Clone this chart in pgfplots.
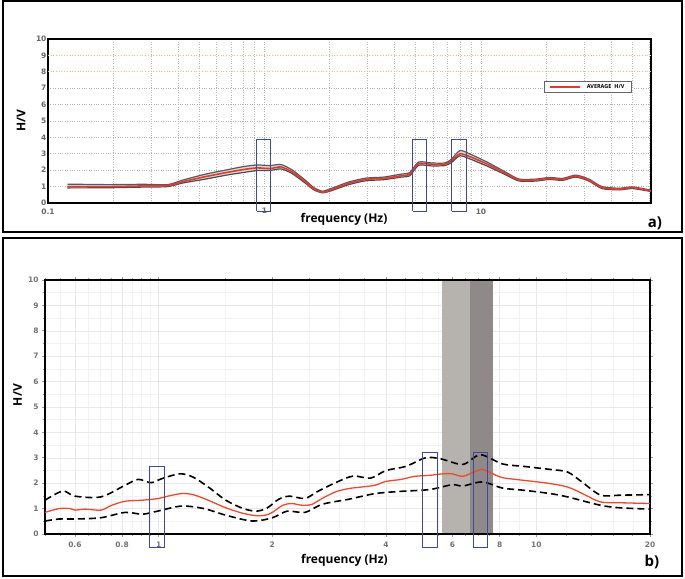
\documentclass[border=0pt]{standalone}
\usepackage{fontspec}
\setmainfont{Open Sans}
\newfontfamily\tickfont{DejaVu Sans}
\usepackage{pgfplots}
\usepackage{pgfplotstable}
\pgfplotsset{compat=1.18}

\definecolor{boxblue}{HTML}{3B4A9A}
\definecolor{avgred}{HTML}{E23A32}
\definecolor{meanred}{HTML}{EC4A2E}
\definecolor{bandlight}{HTML}{B6B3AF}
\definecolor{banddark}{HTML}{8F8A89}

% panel a: frequency, average, upper and lower envelope
\pgfplotstableread{
f     avg   up    lo
0.123 1.00  1.15  0.92
0.19  1.00  1.12  0.93
0.277 1.04  1.14  0.97
0.357 1.06  1.12  1.00
0.42  1.30  1.40  1.22
0.53  1.60  1.75  1.45
0.668 1.86  2.02  1.70
0.80  2.04  2.22  1.86
0.925 2.14  2.32  1.98
1.06  2.10  2.28  1.98
1.19  2.20  2.35  2.08
1.34  1.90  2.02  1.80
1.54  1.30  1.40  1.22
1.69  0.86  0.94  0.80
1.85  0.66  0.72  0.62
2.03  0.80  0.88  0.74
2.45  1.20  1.28  1.12
2.95  1.44  1.52  1.36
3.55  1.50  1.58  1.42
4.28  1.66  1.76  1.58
4.69  1.76  1.86  1.66
5.15  2.40  2.50  2.30
5.92  2.36  2.44  2.26
6.8   2.36  2.44  2.28
7.29  2.56  2.66  2.46
8.0   3.00  3.20  2.88
8.99  2.80  2.96  2.66
10.8  2.34  2.46  2.22
13.0  1.80  1.88  1.72
15.0  1.40  1.46  1.34
18.0  1.40  1.46  1.34
20.7  1.50  1.56  1.44
23.8  1.44  1.50  1.38
27.4  1.64  1.70  1.58
31.5  1.40  1.46  1.34
36.2  0.94  1.00  0.88
43.6  0.84  0.90  0.80
50.1  0.94  0.98  0.88
61    0.74  0.78  0.70
}\panela

% envelope outline of panel a (upper forwards, lower backwards)
\pgfplotstableread{
f     hv
0.123 1.15
0.357 1.12
0.42  1.40
0.53  1.75
0.668 2.02
0.80  2.22
0.925 2.32
1.06  2.28
1.19  2.35
1.34  2.02
1.54  1.40
1.69  0.94
1.85  0.72
2.03  0.88
2.45  1.28
2.95  1.52
3.55  1.58
4.28  1.76
4.69  1.86
5.15  2.50
5.92  2.44
6.8   2.44
7.29  2.66
8.0   3.20
8.99  2.96
10.8  2.46
13.0  1.88
15.0  1.46
15.0  1.34
13.0  1.72
10.8  2.22
8.99  2.66
8.0   2.88
7.29  2.46
6.8   2.28
5.92  2.26
5.15  2.30
4.69  1.66
4.28  1.58
3.55  1.42
2.95  1.36
2.45  1.12
2.03  0.74
1.85  0.62
1.69  0.80
1.54  1.22
1.34  1.80
1.19  2.08
1.06  1.98
0.925 1.98
0.80  1.86
0.668 1.70
0.53  1.45
0.42  1.22
0.357 1.00
0.123 0.92
}\enva

% panel b
\pgfplotstableread{
f     hv
0.5   0.85
0.545 1.00
0.583 1.00
0.60  0.94
0.64  0.98
0.703 0.94
0.751 1.13
0.815 1.29
0.906 1.33
1.0   1.40
1.064 1.50
1.15  1.59
1.233 1.55
1.353 1.33
1.506 1.03
1.676 0.81
1.815 0.72
1.916 0.74
2.0   0.85
2.13  1.13
2.25  1.20
2.40  1.13
2.54  1.16
2.71  1.40
2.94  1.66
3.19  1.79
3.45  1.85
3.74  1.92
4.0   2.07
4.39  2.15
4.76  2.27
5.22  2.31
5.66  2.37
5.98  2.37
6.39  2.27
6.83  2.44
7.20  2.54
7.6   2.40
8.13  2.22
9.29  2.11
10.6  2.01
12.1  1.85
13.5  1.53
14.8  1.26
16.7  1.23
20    1.20
}\meanb

\pgfplotstableread{
f     hv
0.5   1.33
0.557 1.69
0.6   1.49
0.703 1.46
0.815 1.92
0.882 2.15
0.955 2.02
1.02  2.18
1.137 2.37
1.233 2.24
1.353 1.85
1.506 1.33
1.676 1.00
1.815 0.90
1.94  1.03
2.08  1.37
2.22  1.49
2.44  1.40
2.64  1.68
2.94  2.02
3.27  2.28
3.64  2.20
4.0   2.50
4.51  2.66
5.09  3.00
5.58  2.96
6.39  2.74
7.11  3.12
8.13  2.76
9.29  2.66
10.9  2.54
12.1  2.44
13.2  2.05
14.8  1.53
16.7  1.53
20    1.55
}\upb

\pgfplotstableread{
f     hv
0.5   0.51
0.545 0.59
0.6   0.59
0.703 0.64
0.815 0.85
0.906 0.78
1.0   0.91
1.15  1.10
1.318 1.00
1.506 0.74
1.77  0.51
2.0   0.64
2.19  0.90
2.44  0.85
2.71  1.17
3.19  1.37
3.74  1.59
4.39  1.68
5.22  1.75
5.98  1.94
6.39  1.89
7.2   2.05
8.13  1.81
9.29  1.72
10.9  1.59
12.1  1.46
14.8  1.13
16.7  1.03
20    0.98
}\lob

\begin{document}
\begin{tikzpicture}
\useasboundingbox (0pt,0pt) rectangle (685pt,578pt);
\draw[line width=2pt] (3pt,346pt) rectangle (682pt,577pt);
\draw[line width=2pt] (3pt,2pt) rectangle (682pt,340pt);

% ---------- panel a ----------
\begin{axis}[
    at={(48pt,375pt)}, anchor=south west,
    scale only axis, width=603pt, height=164pt,
    xmode=log, xmin=0.1, xmax=61, ymin=0, ymax=10,
    xtick={0.1,1,10}, xticklabels={0.1,1,10},
    minor xtick={0.2,0.3,0.4,0.5,0.6,0.7,0.8,0.9,2,3,4,5,6,7,8,9,20,30,40,50,60},
    ytick={0,1,2,3,4,5,6,7,10},
    extra y ticks={8,9}, extra y tick labels={8,9},
    extra y tick style={major grid style={orange!55, dotted, line width=0.7pt}},
    grid=both,
    major grid style={gray!60, dotted, line width=0.7pt},
    minor grid style={gray!55, dotted, line width=0.7pt},
    major tick length=0pt, minor tick length=0pt,
    axis line style={line width=2.8pt},
    /pgf/number format/assume math mode=true,
    ticklabel style={font=\tickfont\bfseries\fontsize{7.5}{8}\selectfont, text=black!60},
    xticklabel style={yshift=-2pt},
    yticklabel style={xshift=2pt},
    xlabel={frequency (Hz)},
    ylabel={H/V},
    xlabel style={at={(axis description cs:0.491,0)}, anchor=center, yshift=-16pt,
        font=\bfseries\fontsize{12}{13}\selectfont},
    ylabel style={at={(axis description cs:0,0.5)}, anchor=center, yshift=27pt,
        font=\bfseries\fontsize{12}{13}\selectfont},
    legend style={at={(0.822,0.745)}, anchor=north west, draw=black!60,
        line width=1.2pt, inner xsep=5pt, inner ysep=1pt,
        font=\bfseries\fontsize{5.5}{6}\selectfont},
    legend image code/.code={\draw[#1] (0pt,0pt) -- (30pt,0pt);},
    legend cell align=left,
    clip=false,
]
\addplot[fill=black!14, draw=none, forget plot] table[x=f, y=hv] {\enva} -- cycle;
\addplot[black!65, line width=1.2pt, smooth, tension=0.4, forget plot] table[x=f, y=up] {\panela};
\addplot[black!70, line width=1.2pt, smooth, tension=0.4, forget plot] table[x=f, y=lo] {\panela};
\addplot[avgred, line width=1.6pt, smooth, tension=0.4] table[x=f, y=avg] {\panela};
\addlegendentry{\hspace{4pt}AVERAGE \ H/V\hspace{6pt}}
% marked ranges
\addplot[boxblue, line width=1pt, forget plot] coordinates {(0.923,-0.5)(0.923,3.9)(1.07,3.9)(1.07,-0.5)(0.923,-0.5)};
\addplot[boxblue, line width=1pt, forget plot] coordinates {(4.84,-0.5)(4.84,3.85)(5.62,3.85)(5.62,-0.5)(4.84,-0.5)};
\addplot[boxblue, line width=1pt, forget plot] coordinates {(7.34,-0.5)(7.34,3.85)(8.61,3.85)(8.61,-0.5)(7.34,-0.5)};
\end{axis}
\node[font=\bfseries\fontsize{15}{16}\selectfont] at (655pt,355pt) {a)};

% ---------- panel b ----------
\begin{axis}[
    at={(45pt,44pt)}, anchor=south west,
    scale only axis, width=605pt, height=254pt,
    xmode=log, xmin=0.5, xmax=20, ymin=0, ymax=10,
    xtick={0.6,0.8,1,2,4,6,8,10,20},
    xticklabels={0.6,0.8,1,2,4,6,8,10,20},
    minor xtick={0.5,0.55,0.65,0.7,0.75,0.85,0.9,0.95,1.5,2.5,3,3.5,4.5,5,5.5,6.5,7,7.5,9,12,14,16,18},
    ytick={0,1,...,10},
    minor ytick={0.5,1.5,...,9.5},
    grid=both,
    major grid style={gray!18, line width=0.5pt},
    minor grid style={gray!10, line width=0.4pt},
    tick align=outside,
    major tick length=3pt, minor tick length=2pt,
    tick style={black!40, line width=0.6pt},
    axis line style={line width=2.8pt},
    /pgf/number format/assume math mode=true,
    ticklabel style={font=\tickfont\bfseries\fontsize{7.5}{8}\selectfont, text=black!55},
    xticklabel style={yshift=-1pt},
    xlabel={frequency (Hz)},
    ylabel={H/V},
    xlabel style={at={(axis description cs:0.495,0)}, anchor=center, yshift=-26pt,
        font=\bfseries\fontsize{12}{13}\selectfont},
    ylabel style={at={(axis description cs:0,0.547)}, anchor=center, yshift=27.5pt,
        font=\bfseries\fontsize{12}{13}\selectfont},
    clip=false,
]
\addplot[draw=none, fill=bandlight] coordinates {(5.62,0.05)(5.62,9.95)(6.68,9.95)(6.68,0.05)} -- cycle;
\addplot[draw=none, fill=banddark] coordinates {(6.68,0.05)(6.68,9.95)(7.69,9.95)(7.69,0.05)} -- cycle;
\addplot[black, line width=1.6pt, dash pattern=on 7pt off 4pt, smooth, tension=0.5] table[x=f, y=hv] {\upb};
\addplot[black, line width=1.6pt, dash pattern=on 7pt off 4pt, smooth, tension=0.5] table[x=f, y=hv] {\lob};
\addplot[meanred, line width=1.3pt, smooth, tension=0.5] table[x=f, y=hv] {\meanb};
\addplot[boxblue, line width=1pt] coordinates {(0.944,-0.55)(0.944,2.64)(1.034,2.64)(1.034,-0.55)(0.944,-0.55)};
\addplot[boxblue, line width=1pt] coordinates {(4.99,-0.55)(4.99,3.2)(5.47,3.2)(5.47,-0.55)(4.99,-0.55)};
\addplot[boxblue, line width=1pt] coordinates {(6.83,-0.55)(6.83,3.2)(7.44,3.2)(7.44,-0.55)(6.83,-0.55)};
\end{axis}
\node[font=\bfseries\fontsize{15}{16}\selectfont] at (652pt,16pt) {b)};
\end{tikzpicture}
\end{document}
